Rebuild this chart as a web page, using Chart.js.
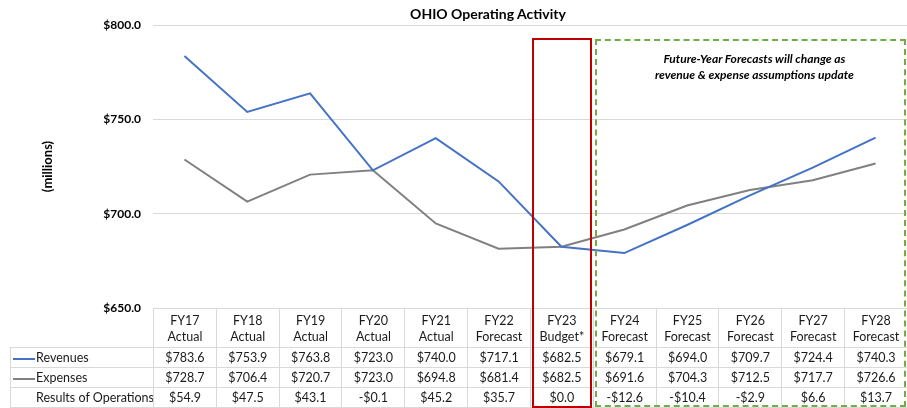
<!DOCTYPE html>
<html>
<head>
<meta charset="utf-8">
<script src="https://cdn.jsdelivr.net/npm/chart.js@4.4.0/dist/chart.umd.min.js"></script>
<style>
  body { margin: 0; background: #fff; font-family: Lato, "Open Sans", sans-serif; }
  #wrap { position: relative; width: 907px; height: 408px; overflow: hidden; }
  #myChart { position: absolute; left: 0; top: 0; }
  #title { position: absolute; left: 288px; width: 400px; top: 5px; text-align: center; font-weight: bold; font-size: 14px; line-height: 18px; color: #000; }
  #dataTable { position: absolute; border-collapse: collapse; table-layout: fixed; font-size: 12.5px; color: #1a1a1a; }
  #dataTable td { border: 1px solid #d9d9d9; text-align: center; padding: 0; white-space: nowrap; overflow: hidden; }
  #dataTable td.blank { border: none; }
  #dataTable tr.head td { height: 36px; line-height: 16px; padding-top: 2px; }
  #dataTable tr.row td { height: 19px; line-height: 19px; }
  #dataTable td.lbl { text-align: left; padding-left: 2px; }
  .swatch { display: inline-block; width: 22px; height: 2px; vertical-align: middle; margin-right: 1px; }
  .box { position: absolute; box-sizing: border-box; pointer-events: none; }
  #note { position: absolute; text-align: center; font-style: italic; font-weight: bold; font-size: 12px; line-height: 16px; color: #000; }
</style>
</head>
<body>
<div id="wrap">
  <canvas id="myChart" width="907" height="408"></canvas>
  <div id="title">OHIO Operating Activity</div>
  <table id="dataTable"></table>
  <div id="budgetBox" class="box"></div>
  <div id="forecastBox" class="box"></div>
  <div id="note">Future-Year Forecasts will change as<br>revenue &amp; expense assumptions update</div>
</div>
<script>
// data
const years = ['FY17', 'FY18', 'FY19', 'FY20', 'FY21', 'FY22', 'FY23', 'FY24', 'FY25', 'FY26', 'FY27', 'FY28'];
const kinds = ['Actual', 'Actual', 'Actual', 'Actual', 'Actual', 'Forecast', 'Budget*', 'Forecast', 'Forecast', 'Forecast', 'Forecast', 'Forecast'];
const revenues = [783.6, 753.9, 763.8, 723.0, 740.0, 717.1, 682.5, 679.1, 694.0, 709.7, 724.4, 740.3];
const expenses = [728.7, 706.4, 720.7, 723.0, 694.8, 681.4, 682.5, 691.6, 704.3, 712.5, 717.7, 726.6];
const results = [54.9, 47.5, 43.1, -0.1, 45.2, 35.7, 0.0, -12.6, -10.4, -2.9, 6.6, 13.7];
const yTicks = [650, 700, 750, 800];

const blue = '#4472C4';
const grey = '#808080';

function money(v) {
  return (v < 0 ? '-$' : '$') + Math.abs(v).toFixed(1);
}

const myChart = new Chart(document.getElementById('myChart'), {
  type: 'line',
  data: {
    labels: years,
    datasets: [{
      label: 'Revenues',
      data: revenues,
      borderColor: blue,
      borderWidth: 2,
      pointRadius: 0,
      tension: 0
    }, {
      label: 'Expenses',
      data: expenses,
      borderColor: grey,
      borderWidth: 2,
      pointRadius: 0,
      tension: 0
    }]
  },
  options: {
    responsive: false,
    animation: false,
    layout: { padding: { left: 0, right: 0, top: 25, bottom: 100 } },
    plugins: {
      legend: { display: false },
      tooltip: { enabled: false },
      title: { display: false }
    },
    scales: {
      x: {
        offset: true,
        grid: { display: false },
        border: { display: false },
        ticks: { display: false },
        afterFit: function(s) { s.height = 0; }
      },
      y: {
        min: 650,
        max: 800,
        afterBuildTicks: function(s) { s.ticks = yTicks.map(v => ({ value: v })); },
        afterFit: function(s) { s.width = 153; },
        grid: { color: '#d9d9d9', drawTicks: false },
        border: { display: false },
        ticks: {
          padding: 12,
          color: '#000',
          font: { family: 'Lato', size: 12, weight: 'bold' },
          callback: v => '$' + Number(v).toFixed(1)
        },
        title: {
          display: true,
          text: '(millions)',
          color: '#000',
          font: { family: 'Lato', size: 13, weight: 'bold' },
          padding: { top: 40, bottom: 0 }
        }
      }
    }
  }
});

// data table under the plot, lined up with the x scale
const xs = myChart.scales.x;
const area = myChart.chartArea;
const colW = (xs.right - xs.left) / years.length;
const tableLeft = 10;
const labelW = xs.left - tableLeft;

const table = document.getElementById('dataTable');
let html = '<colgroup><col style="width:' + labelW + 'px">';
years.forEach(() => { html += '<col style="width:' + colW + 'px">'; });
html += '</colgroup>';
html += '<tr class="head"><td class="blank"></td>';
years.forEach((y, i) => { html += '<td>' + y + '<br>' + kinds[i] + '</td>'; });
html += '</tr>';
html += '<tr class="row"><td class="lbl"><span class="swatch" style="background:' + blue + '"></span>Revenues</td>';
revenues.forEach(v => { html += '<td>' + money(v) + '</td>'; });
html += '</tr>';
html += '<tr class="row"><td class="lbl"><span class="swatch" style="background:' + grey + '"></span>Expenses</td>';
expenses.forEach(v => { html += '<td>' + money(v) + '</td>'; });
html += '</tr>';
html += '<tr class="row"><td class="lbl" style="padding-left:25px">Results of Operations</td>';
results.forEach(v => { html += '<td>' + money(v) + '</td>'; });
html += '</tr>';
table.innerHTML = html;
table.style.left = tableLeft + 'px';
table.style.top = Math.round(area.bottom) + 'px';
table.style.width = (labelW + colW * years.length) + 'px';

// budget (red) and forecast (green dashed) boxes
const budget = document.getElementById('budgetBox');
budget.style.left = (xs.left + 6 * colW + 2) + 'px';
budget.style.width = (colW - 3) + 'px';
budget.style.top = '38px';
budget.style.height = '370px';
budget.style.border = '2px solid #C00000';

const forecast = document.getElementById('forecastBox');
const fLeft = xs.left + 7 * colW + 2;
forecast.style.left = fLeft + 'px';
forecast.style.width = (906 - fLeft) + 'px';
forecast.style.top = '39px';
forecast.style.height = '368px';
forecast.style.border = '2px dashed #70AD47';

const note = document.getElementById('note');
note.style.left = (fLeft + 4) + 'px';
note.style.width = (906 - fLeft) + 'px';
note.style.top = '51px';
</script>
</body>
</html>
